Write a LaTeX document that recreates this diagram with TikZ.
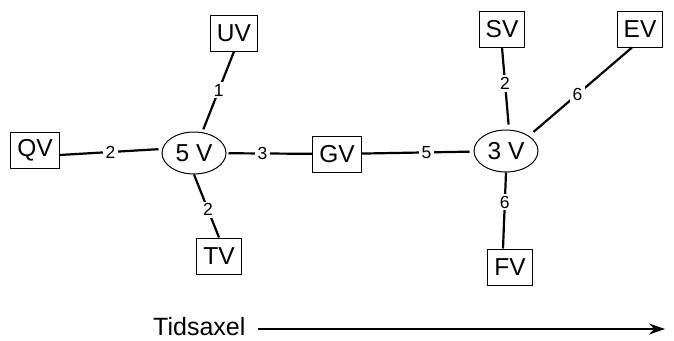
\documentclass[tikz,border=0pt]{standalone}
\usepackage{fontspec}
\setmainfont{Liberation Sans}
\usetikzlibrary{shapes.geometric,arrows.meta}
\begin{document}
\begin{tikzpicture}[x=1pt,y=-1pt,
  box/.style={draw,line width=1pt,inner xsep=6.5pt,inner ysep=0pt,minimum height=36pt,font=\fontsize{24.5}{28}\selectfont},
  hub/.style={draw,ellipse,line width=1pt,minimum width=64pt,minimum height=42pt,inner sep=0pt,font=\fontsize{24.5}{28}\selectfont},
  edge/.style={line width=2.2pt},
  lbl/.style={fill=white,inner xsep=3pt,inner ysep=2pt,font=\fontsize{17.5}{20}\selectfont}]
\useasboundingbox (0,0) rectangle (674,340);
\node[box] (UV) at (234,33) {UV};
\node[box] (QV) at (35,150) {QV};
\node[hub] (V5) at (194,153) {5 V};
\node[box] (GV) at (337,154) {GV};
\node[box] (TV) at (219,256) {TV};
\node[box] (SV) at (502,29) {SV};
\node[box] (EV) at (640,29) {EV};
\node[hub] (V3) at (506,151) {3 V};
\node[box] (FV) at (510,267) {FV};

\draw[edge,shorten >=3pt] (UV.south) -- node[lbl,pos=0.48]{1} (V5);
\draw[edge,shorten >=3pt] ([yshift=-5pt]QV.east) -- node[lbl,pos=0.5]{2} ([yshift=4pt]V5.west);
\draw[edge,shorten <=2pt] (V5) -- node[lbl,pos=0.42]{3} (GV);
\draw[edge] (V5.south) -- node[lbl,pos=0.56]{2} (TV.north);
\draw[edge,shorten >=5pt] (SV.south) -- node[lbl,pos=0.44]{2} ([xshift=3pt]V3.north);
\draw[edge,shorten >=6pt] ([xshift=-8pt]EV.south) -- node[lbl,pos=0.53]{6} (V3.north east);
\draw[edge,shorten >=4pt] (GV) -- node[lbl,pos=0.58]{5} (V3);
\draw[edge] (V3.south) -- node[lbl,pos=0.39]{6} ([xshift=-7pt]FV.north);

\node[anchor=base west,inner sep=0pt,font=\fontsize{25}{28}\selectfont] (tid) at (153,335) {Tidsaxel};
\coordinate (axs) at (258,329);
\coordinate (axe) at (665,329);
\draw[line width=2.2pt,-{Stealth[length=16pt,width=11pt]}] (axs) -- (axe);
\end{tikzpicture}
\end{document}
